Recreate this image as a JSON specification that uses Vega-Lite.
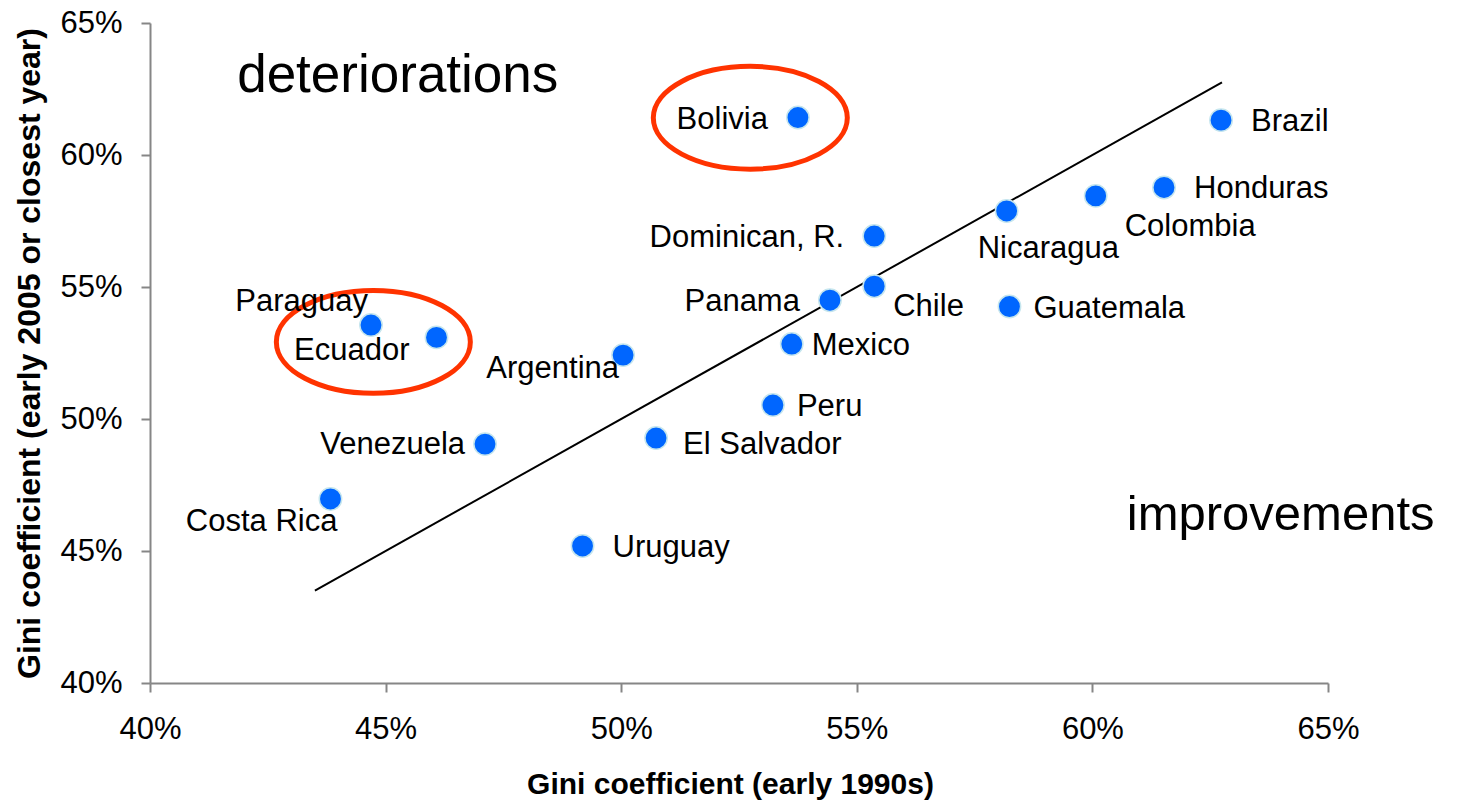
{
  "$schema": "https://vega.github.io/schema/vega-lite/v6.json",
  "width": 1178,
  "height": 660,
  "autosize": {"type": "none"},
  "padding": {"left": 150, "top": 23, "right": 147, "bottom": 119},
  "background": "white",
  "config": {
    "view": {"stroke": null},
    "font": "Liberation Sans",
    "axis": {
      "grid": false,
      "domainColor": "#868686",
      "domainWidth": 2,
      "tickColor": "#868686",
      "tickWidth": 2,
      "tickSize": 9,
      "labelFont": "Liberation Sans",
      "labelFontSize": 31,
      "labelColor": "#000000",
      "labelFlush": false,
      "labelOverlap": false,
      "titleFont": "Liberation Sans",
      "titleFontSize": 30,
      "titleFontWeight": "bold",
      "titleColor": "#000000"
    }
  },
  "datasets": {
    "countries": [
      {"country": "Bolivia", "x": 0.5375, "y": 0.6142},
      {"country": "Brazil", "x": 0.6273, "y": 0.6132},
      {"country": "Honduras", "x": 0.6152, "y": 0.5877},
      {"country": "Colombia", "x": 0.6007, "y": 0.5845},
      {"country": "Nicaragua", "x": 0.5818, "y": 0.5788},
      {"country": "Dominican, R.", "x": 0.5537, "y": 0.5693},
      {"country": "Chile", "x": 0.5537, "y": 0.5503},
      {"country": "Panama", "x": 0.5443, "y": 0.5450},
      {"country": "Guatemala", "x": 0.5824, "y": 0.5426},
      {"country": "Paraguay", "x": 0.4469, "y": 0.5356},
      {"country": "Ecuador", "x": 0.4608, "y": 0.5309},
      {"country": "Argentina", "x": 0.5004, "y": 0.5242},
      {"country": "Mexico", "x": 0.5362, "y": 0.5284},
      {"country": "Peru", "x": 0.5322, "y": 0.5053},
      {"country": "El Salvador", "x": 0.5074, "y": 0.4928},
      {"country": "Venezuela", "x": 0.4711, "y": 0.4905},
      {"country": "Costa Rica", "x": 0.4383, "y": 0.4697},
      {"country": "Uruguay", "x": 0.4918, "y": 0.4519}
    ],
    "diag": [
      {"x": 0.435, "y": 0.435},
      {"x": 0.6275, "y": 0.6275}
    ],
    "rings": [
      {"group": "Bolivia", "x": 0.5274, "y": 0.6141},
      {"group": "Paraguay/Ecuador", "x": 0.4474, "y": 0.5292}
    ],
    "notes": [
      {"note": "deteriorations", "x": 0.4185, "y": 0.6238},
      {"note": "improvements", "x": 0.6073, "y": 0.4579}
    ]
  },
  "encoding": {
    "x": {
      "field": "x",
      "type": "quantitative",
      "scale": {"domain": [0.4, 0.65], "nice": false, "zero": false},
      "axis": {
        "values": [0.4, 0.45, 0.5, 0.55, 0.6, 0.65],
        "format": ".0%",
        "title": "Gini coefficient (early 1990s)",
        "labelPadding": 22,
        "titlePadding": 25,
        "titleX": 580
      }
    },
    "y": {
      "field": "y",
      "type": "quantitative",
      "scale": {"domain": [0.4, 0.65], "nice": false, "zero": false},
      "axis": {
        "values": [0.4, 0.45, 0.5, 0.55, 0.6, 0.65],
        "format": ".0%",
        "title": "Gini coefficient (early 2005 or closest year)",
        "titleFontSize": 32,
        "labelPadding": 19,
        "titlePadding": 13
      }
    }
  },
  "layer": [
    {
      "data": {"name": "diag"},
      "mark": {"type": "line", "color": "#000000", "strokeWidth": 2}
    },
    {
      "data": {"name": "rings"},
      "mark": {
        "type": "point",
        "shape": "M -1 0 A 1 0.53 0 1 0 1 0 A 1 0.53 0 1 0 -1 0 Z",
        "size": 37636,
        "filled": false,
        "stroke": "#ff3300",
        "strokeWidth": 5,
        "opacity": 1
      }
    },
    {
      "data": {"name": "countries"},
      "mark": {
        "type": "circle",
        "size": 500,
        "color": "#0066ff",
        "opacity": 1,
        "stroke": "#c6e6ee",
        "strokeWidth": 1.5
      }
    },
    {
      "data": {"name": "countries"},
      "transform": [{"filter": {"field": "country", "oneOf": ["Bolivia", "Dominican, R.", "Panama"]}}],
      "mark": {"type": "text", "align": "right", "baseline": "middle", "dx": -30, "dy": 2, "fontSize": 31, "color": "#000000"},
      "encoding": {"text": {"field": "country"}}
    },
    {
      "data": {"name": "countries"},
      "transform": [{"filter": {"field": "country", "equal": "Venezuela"}}],
      "mark": {"type": "text", "align": "right", "baseline": "middle", "dx": -20, "dy": 1, "fontSize": 31, "color": "#000000"},
      "encoding": {"text": {"field": "country"}}
    },
    {
      "data": {"name": "countries"},
      "transform": [{"filter": {"field": "country", "equal": "Paraguay"}}],
      "mark": {"type": "text", "align": "right", "baseline": "middle", "dx": -3, "dy": -23, "fontSize": 31, "color": "#000000"},
      "encoding": {"text": {"field": "country"}}
    },
    {
      "data": {"name": "countries"},
      "transform": [{"filter": {"field": "country", "equal": "Ecuador"}}],
      "mark": {"type": "text", "align": "right", "baseline": "middle", "dx": -27, "dy": 14, "fontSize": 31, "color": "#000000"},
      "encoding": {"text": {"field": "country"}}
    },
    {
      "data": {"name": "countries"},
      "transform": [{"filter": {"field": "country", "equal": "Argentina"}}],
      "mark": {"type": "text", "align": "right", "baseline": "middle", "dx": -4, "dy": 14, "fontSize": 31, "color": "#000000"},
      "encoding": {"text": {"field": "country"}}
    },
    {
      "data": {"name": "countries"},
      "transform": [{"filter": {"field": "country", "equal": "Costa Rica"}}],
      "mark": {"type": "text", "align": "right", "baseline": "middle", "dx": 7, "dy": 23, "fontSize": 31, "color": "#000000"},
      "encoding": {"text": {"field": "country"}}
    },
    {
      "data": {"name": "countries"},
      "transform": [{"filter": {"field": "country", "oneOf": ["Brazil", "Honduras", "Uruguay"]}}],
      "mark": {"type": "text", "align": "left", "baseline": "middle", "dx": 30, "dy": 2, "fontSize": 31, "color": "#000000"},
      "encoding": {"text": {"field": "country"}}
    },
    {
      "data": {"name": "countries"},
      "transform": [{"filter": {"field": "country", "oneOf": ["Guatemala", "Peru"]}}],
      "mark": {"type": "text", "align": "left", "baseline": "middle", "dx": 24, "dy": 2, "fontSize": 31, "color": "#000000"},
      "encoding": {"text": {"field": "country"}}
    },
    {
      "data": {"name": "countries"},
      "transform": [{"filter": {"field": "country", "equal": "Mexico"}}],
      "mark": {"type": "text", "align": "left", "baseline": "middle", "dx": 20, "dy": 2, "fontSize": 31, "color": "#000000"},
      "encoding": {"text": {"field": "country"}}
    },
    {
      "data": {"name": "countries"},
      "transform": [{"filter": {"field": "country", "equal": "El Salvador"}}],
      "mark": {"type": "text", "align": "left", "baseline": "middle", "dx": 27, "dy": 7, "fontSize": 31, "color": "#000000"},
      "encoding": {"text": {"field": "country"}}
    },
    {
      "data": {"name": "countries"},
      "transform": [{"filter": {"field": "country", "equal": "Chile"}}],
      "mark": {"type": "text", "align": "left", "baseline": "middle", "dx": 19, "dy": 21, "fontSize": 31, "color": "#000000"},
      "encoding": {"text": {"field": "country"}}
    },
    {
      "data": {"name": "countries"},
      "transform": [{"filter": {"field": "country", "equal": "Colombia"}}],
      "mark": {"type": "text", "align": "left", "baseline": "middle", "dx": 29, "dy": 31, "fontSize": 31, "color": "#000000"},
      "encoding": {"text": {"field": "country"}}
    },
    {
      "data": {"name": "countries"},
      "transform": [{"filter": {"field": "country", "equal": "Nicaragua"}}],
      "mark": {"type": "text", "align": "left", "baseline": "middle", "dx": -29, "dy": 38, "fontSize": 31, "color": "#000000"},
      "encoding": {"text": {"field": "country"}}
    },
    {
      "data": {"name": "notes"},
      "transform": [{"filter": {"field": "note", "equal": "deteriorations"}}],
      "mark": {"type": "text", "align": "left", "baseline": "alphabetic", "fontSize": 53, "color": "#000000"},
      "encoding": {"text": {"field": "note"}}
    },
    {
      "data": {"name": "notes"},
      "transform": [{"filter": {"field": "note", "equal": "improvements"}}],
      "mark": {"type": "text", "align": "left", "baseline": "alphabetic", "fontSize": 49, "color": "#000000"},
      "encoding": {"text": {"field": "note"}}
    }
  ]
}
